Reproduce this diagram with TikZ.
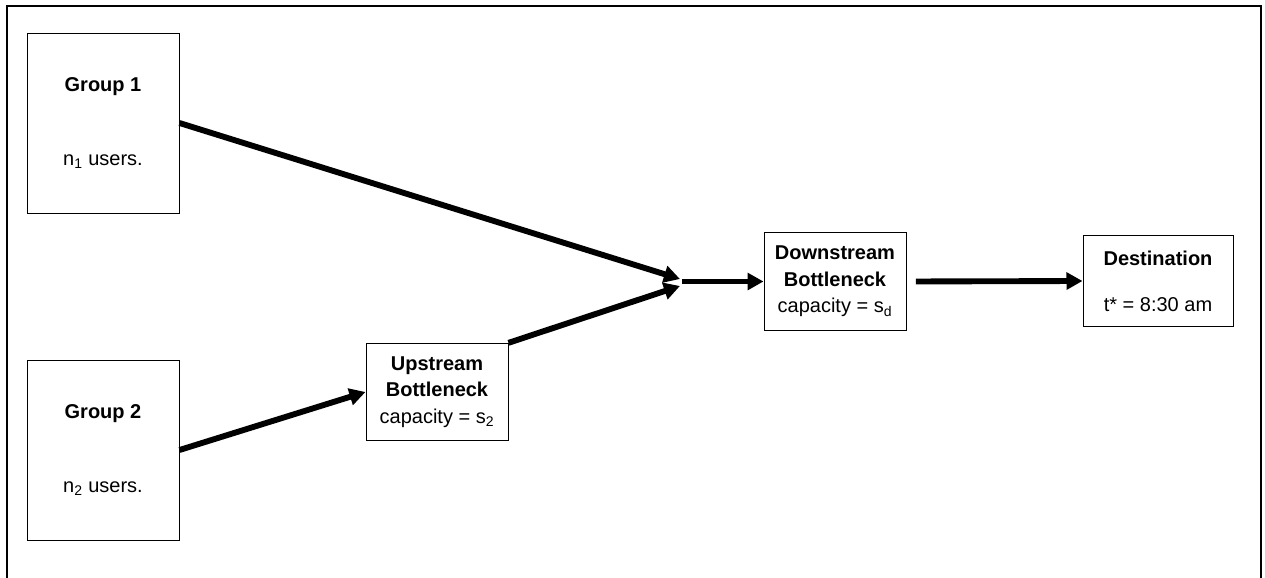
\documentclass[tikz,border=0pt]{standalone}
\usepackage{fontspec}
\setmainfont{Liberation Sans}
\usetikzlibrary{arrows.meta}
\tikzset{grp/.style={draw,line width=.75pt,minimum width=114pt,minimum height=135pt,align=center,inner sep=0pt},
 bneck/.style={draw,line width=.75pt,minimum width=106.5pt,minimum height=73pt,align=center,inner sep=0pt},
 dest/.style={bneck,minimum width=112.5pt,minimum height=68pt},
 frame/.style={line width=1.5pt},
 arr/.style={-{Triangle[length=12pt,width=12.5pt]},line width=4.4pt},
 every node/.style={font=\fontsize{15}{20}\selectfont}}
\begin{document}
\begin{tikzpicture}[x=0.75pt,y=-0.75pt]
\useasboundingbox (0,0) rectangle (1265,578);
\draw[frame] (7,578)--(7,6)--(1261,6)--(1261,578);
\node[grp] (g1) at (103,123) {\textbf{Group 1}\\[36pt]n\textsubscript{1} users.};
\node[grp] (g2) at (103,450) {\textbf{Group 2}\\[36pt]n\textsubscript{2} users.};
\node[bneck] (up) at (437,392) {\textbf{Upstream}\\\textbf{Bottleneck}\\capacity = s\textsubscript{2}};
\node[bneck] (down) at (835,281.5) {\textbf{Downstream}\\\textbf{Bottleneck}\\capacity = s\textsubscript{d}};
\node[dest] (dest) at (1158,281) {\textbf{Destination}\\[14.5pt]t* = 8:30 am};
\coordinate (ja) at (680,279);
\coordinate (jb) at (680,286);
\coordinate (jn) at (682,281.5);
\draw[arr] (g1.east)--(ja);
\draw[arr] (g2.east)--(up.west);
\draw[arr] (up.north east)--(jb);
\draw[arr] (jn)--(down.west);
\draw[arr,shorten <=7pt] (down.east)--(dest.west);
\end{tikzpicture}
\end{document}
